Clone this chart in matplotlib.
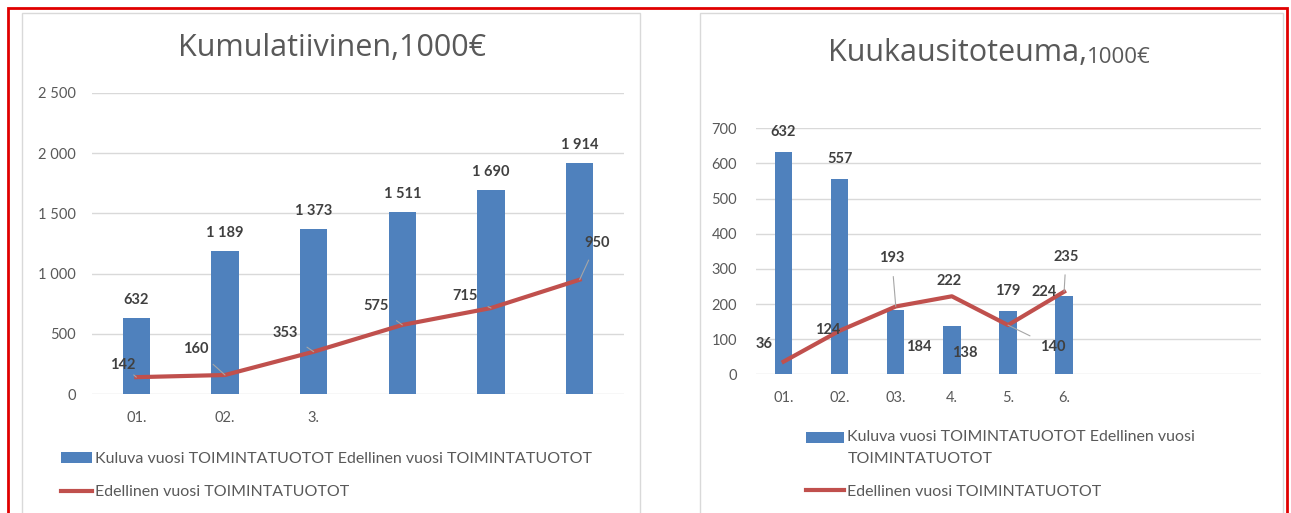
import numpy as np
import matplotlib.pyplot as plt
from matplotlib.patches import Rectangle
from matplotlib.legend_handler import HandlerPatch

# data
cum_labels = ["01.", "02.", "3.", "", "", ""]
cum_current = [632, 1189, 1373, 1511, 1690, 1914]
cum_previous = [142, 160, 353, 575, 715, 950]

mon_labels = ["01.", "02.", "03.", "4.", "5.", "6.", "", "", ""]
mon_current = [632, 557, 184, 138, 179, 224]
mon_previous = [36, 124, 193, 222, 140, 235]

bar_name = "Kuluva vuosi TOIMINTATUOTOT Edellinen vuosi TOIMINTATUOTOT"
bar_name_wrapped = "Kuluva vuosi TOIMINTATUOTOT Edellinen vuosi\nTOIMINTATUOTOT"
line_name = "Edellinen vuosi TOIMINTATUOTOT"

BLUE = "#4F81BD"
RED = "#C0504D"
GRID = "#D9D9D9"
TXT = "#595959"
LBL = "#404040"
TITLE_FONT = ["Open Sans", "DejaVu Sans"]

plt.rcParams["font.family"] = ["Lato", "DejaVu Sans"]

W, H = 1291, 513
fig = plt.figure(figsize=(W / 100, H / 100), dpi=100)


def box(x0, y0, x1, y1):
    # pixel box (top-left origin) -> figure fraction
    return [x0 / W, 1 - y1 / H, (x1 - x0) / W, (y1 - y0) / H]


# outer red frame and chart panels
fig.add_artist(Rectangle((8 / W, -0.1), 1279 / W, 1.1 - 8 / H, transform=fig.transFigure,
                         fill=False, ec="#E00000", lw=2))
for x0, x1 in [(22, 640), (700, 1283)]:
    fig.add_artist(Rectangle((x0 / W, -0.1), (x1 - x0) / W, 1.1 - 13 / H,
                             transform=fig.transFigure, fill=False, ec="#D9D9D9", lw=1))


def style(ax, ymax, step, fmt, ypad):
    ax.set_ylim(0, ymax)
    ticks = np.arange(0, ymax + 1, step)
    ax.set_yticks(ticks)
    ax.set_yticklabels([fmt(t) for t in ticks])
    ax.grid(axis="y", color=GRID, lw=1)
    ax.set_axisbelow(True)
    for s in ax.spines.values():
        s.set_visible(False)
    ax.tick_params(length=0, labelsize=10.5, colors=TXT)
    ax.tick_params(axis="y", pad=ypad)
    ax.tick_params(axis="x", pad=12)


def put(ax, x, y, text, dx, dy, leader=False):
    ax.annotate(text, (x, y), xytext=(dx, dy), textcoords="offset pixels",
                ha="center", va="center", fontsize=10.5, fontweight="bold", color=LBL,
                arrowprops=dict(arrowstyle="-", color="#A6A6A6", lw=0.8,
                                shrinkA=6, shrinkB=0) if leader else None)


def raised_patch(shift):
    # legend box for a wrapped label sits on the first text line
    def make(legend, orig_handle, xdescent, ydescent, width, height, fontsize):
        return Rectangle((-xdescent, -ydescent + shift), width, height)
    return HandlerPatch(patch_func=make)


def legend(ax, bars, line, label, anchor, spacing, hlen, shift=0):
    patch = bars.patches[0]
    leg = ax.legend([patch, line], [label, line_name], loc="upper left",
                    bbox_to_anchor=anchor, frameon=False, fontsize=11.5, labelcolor=TXT,
                    handlelength=hlen, handletextpad=0.2, labelspacing=spacing,
                    borderaxespad=0, handler_map={patch: raised_patch(shift)})
    for t in leg.get_texts():
        t.set_linespacing(1.7)
    return leg


# left: cumulative
ax1 = fig.add_axes(box(92, 92.7, 624, 394.3))
x1 = np.arange(len(cum_labels))
ax1.set_xlim(-0.5, len(cum_labels) - 0.5)
b1 = ax1.bar(x1[:len(cum_current)], cum_current, width=0.31, color=BLUE, zorder=2)
l1, = ax1.plot(x1[:len(cum_previous)], cum_previous, color=RED, lw=3, zorder=3)
style(ax1, 2500, 500, lambda t: f"{int(t):,}".replace(",", " "), 11.5)
ax1.set_xticks(x1)
ax1.set_xticklabels(cum_labels)
for i, v in enumerate(cum_current):
    put(ax1, i, v, f"{v:,}".replace(",", " "), 0, 18)
cum_off = [(-14, 12), (-29, 26), (-28, 19), (-26, 19), (-26, 12), (17, 37)]
for i, v in enumerate(cum_previous):
    put(ax1, i, v, str(v), *cum_off[i], leader=True)
fig.text(332 / W, 1 - 48 / H, "Kumulatiivinen,1000€", fontsize=22, color=TXT,
         ha="center", va="center", family=TITLE_FONT)
legend(ax1, b1, l1, bar_name, (-37 / 532, -0.17), 1.2, 1.9)

# right: monthly
ax2 = fig.add_axes(box(755.5, 128.3, 1260.5, 374.3))
x2 = np.arange(len(mon_labels))
ax2.set_xlim(-0.5, len(mon_labels) - 0.5)
b2 = ax2.bar(x2[:len(mon_current)], mon_current, width=0.31, color=BLUE, zorder=2)
l2, = ax2.plot(x2[:len(mon_previous)], mon_previous, color=RED, lw=3, zorder=3)
style(ax2, 700, 100, lambda t: f"{int(t)}", 13.3)
ax2.set_xticks(x2)
ax2.set_xticklabels(mon_labels)
bar_off = [(0, 20), (0, 20), (23, -37), (13, -27), (0, 20), (-20, 4)]
for i, v in enumerate(mon_current):
    put(ax2, i, v, str(v), *bar_off[i])
line_off = [(-19, 18), (-12, 1), (-4, 48), (-3, 15), (45, -22), (2, 35)]
lead = [False, True, True, False, True, True]
for i, v in enumerate(mon_previous):
    put(ax2, i, v, str(v), *line_off[i], leader=lead[i])
t_big = fig.text(828 / W, 1 - 53 / H, "Kuukausitoteuma,", fontsize=22, color=TXT,
                 ha="left", va="center", family=TITLE_FONT)
ax2.annotate("1000€", xy=(1, 0), xycoords=t_big, ha="left", va="bottom",
             fontsize=16, color=TXT, family=TITLE_FONT)
legend(ax2, b2, l2, bar_name_wrapped, (44 / 505, -0.2), 1.2, 2.4, shift=7.5)

fig.savefig("out.png", dpi=100)
